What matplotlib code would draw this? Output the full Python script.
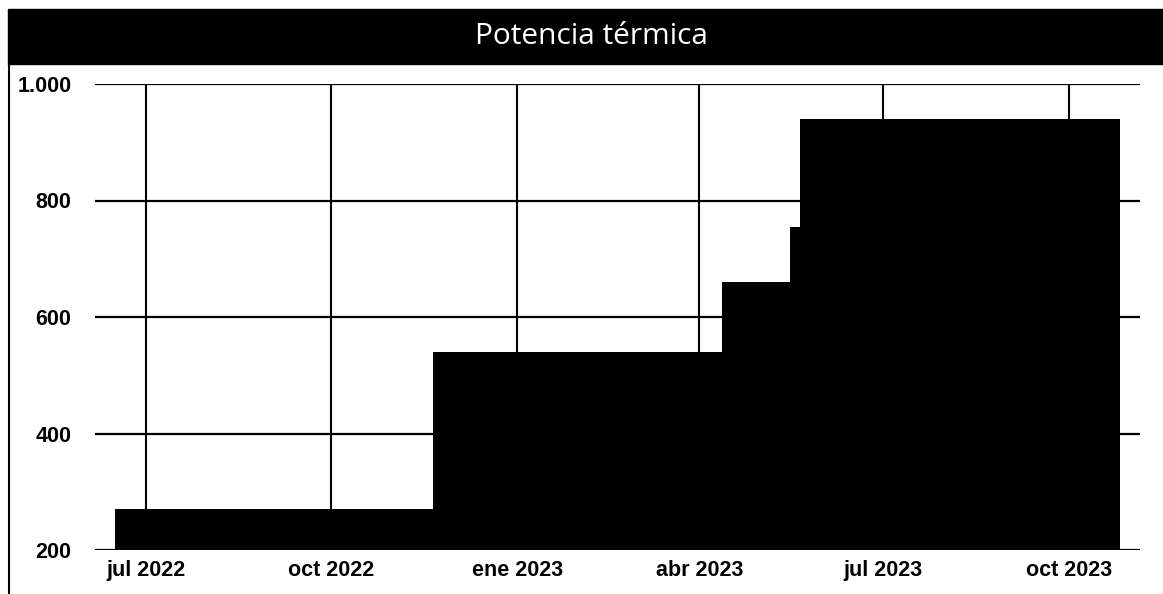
import numpy as np
import matplotlib
matplotlib.use('Agg')
import matplotlib.pyplot as plt
import matplotlib.dates as mdates
from matplotlib.patches import Rectangle
from matplotlib.lines import Line2D
from datetime import datetime

# Installed thermal power, stepped series (date of change, value from that date)
step_dates = ['2022-06-16', '2022-11-20', '2023-04-12', '2023-05-16', '2023-05-21', '2023-10-26']
step_values = [270, 540, 660, 755, 940, 940]

tick_dates = ['2022-07-01', '2022-10-01', '2023-01-01', '2023-04-01', '2023-07-01', '2023-10-01']
tick_labels = ['jul 2022', 'oct 2022', 'ene 2023', 'abr 2023', 'jul 2023', 'oct 2023']
y_ticks = [200, 400, 600, 800, 1000]
y_labels = ['200', '400', '600', '800', '1.000']

plt.rcParams['font.family'] = ['Liberation Sans', 'DejaVu Sans']

fig = plt.figure(figsize=(11.63, 5.94), dpi=100)
ax = fig.add_axes([95/1163, 1 - 550/594, (1140 - 95)/1163, (550 - 84)/594])

x = mdates.date2num([datetime.fromisoformat(d) for d in step_dates])
ax.fill_between(x, 200, step_values, step='post', color='black', lw=0, zorder=3)

xt = mdates.date2num([datetime.fromisoformat(d) for d in tick_dates])
for t in xt:
    ax.axvline(t, color='black', lw=1.5, zorder=1)
for v in y_ticks:
    ax.axhline(v, color='black', lw=1.6, zorder=1)

ax.set_xlim(mdates.date2num(datetime(2022, 6, 6)), mdates.date2num(datetime(2023, 11, 5)))
ax.set_ylim(200, 1000)
ax.set_xticks(xt)
ax.set_xticklabels(tick_labels, fontsize=15.5, fontweight='bold')
ax.set_yticks(y_ticks)
ax.set_yticklabels(y_labels, fontsize=15.5, fontweight='bold')
ax.tick_params(length=0)
ax.tick_params(axis='y', pad=17)
ax.tick_params(axis='x', pad=7)
for s in ax.spines.values():
    s.set_visible(False)

# title band and left frame line
fig.patches.append(Rectangle((8/1163, 1 - 64/594), 1, 55/594, transform=fig.transFigure,
                             color='black', zorder=0))
fig.lines.append(Line2D([8.5/1163, 8.5/1163], [0, 1 - 64/594], transform=fig.transFigure,
                        color='black', lw=1.5))
fig.text(591/1163, 1 - 36/594, 'Potencia térmica', color='white', fontsize=21.5,
         ha='center', va='center', family=['Open Sans', 'DejaVu Sans'])

fig.savefig('out.png', dpi=100)
